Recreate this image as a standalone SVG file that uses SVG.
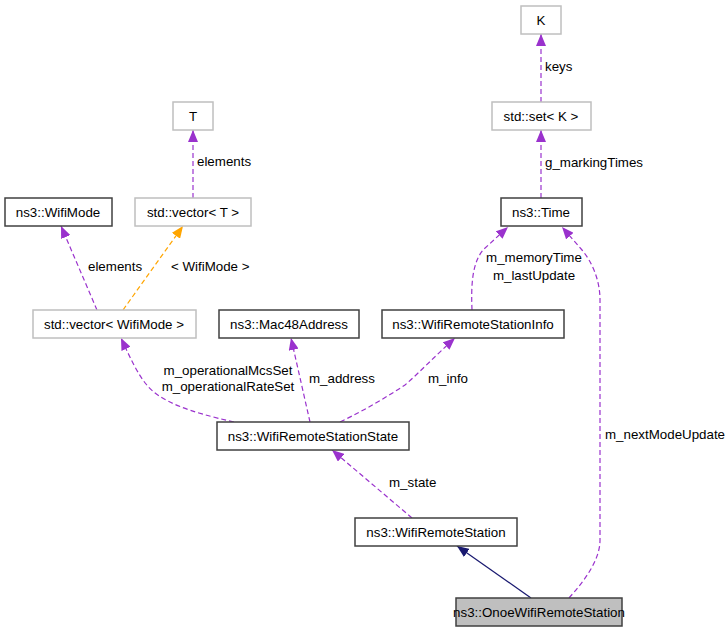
<svg xmlns="http://www.w3.org/2000/svg" width="728" height="632" viewBox="0 0 728 632">
<style>
text{font-family:"Liberation Sans",Arial,sans-serif;font-size:13.33px;fill:#000}
.n text{text-anchor:middle}
.b{fill:#fff;stroke:#404040;stroke-width:1.5}
.g{fill:#fff;stroke:#bfbfbf;stroke-width:1.5}
.s{fill:#bfbfbf;stroke:#404040;stroke-width:1.5}
.e{fill:none;stroke:#9a32cd;stroke-width:1.2;stroke-dasharray:5,3;marker-end:url(#ap)}
.o{fill:none;stroke:#ffa500;stroke-width:1.2;stroke-dasharray:5,3;marker-end:url(#ao)}
.h{fill:none;stroke:#191970;stroke-width:1.2;marker-end:url(#an)}
</style>
<defs>
<marker id="ap" viewBox="0 0 12 10" refX="12" refY="5" markerWidth="12" markerHeight="10" markerUnits="userSpaceOnUse" orient="auto"><path d="M0,0L12,5L0,10z" fill="#9a32cd"/></marker>
<marker id="ao" viewBox="0 0 12 10" refX="12" refY="5" markerWidth="12" markerHeight="10" markerUnits="userSpaceOnUse" orient="auto"><path d="M0,0L12,5L0,10z" fill="#ffa500"/></marker>
<marker id="an" viewBox="0 0 12 10" refX="12" refY="5" markerWidth="12" markerHeight="10" markerUnits="userSpaceOnUse" orient="auto"><path d="M0,0L12,5L0,10z" fill="#191970"/></marker>
</defs>
<rect width="728" height="632" fill="#fff"/>
<g id="edges">
<path class="e" d="M541,102L541,34"/>
<text x="545" y="71">keys</text>
<path class="e" d="M541,198L541,130"/>
<text x="545" y="167">g_markingTimes</text>
<path class="e" d="M193,198L193,130"/>
<text x="197" y="166">elements</text>
<path class="e" d="M97,310L61,226"/>
<text x="88" y="271">elements</text>
<path class="o" d="M123,310L183,226"/>
<text x="171" y="271">&lt; WifiMode &gt;</text>
<path class="e" d="M472,310C471,285 472,262 484,249L508,227"/>
<text x="534" y="262" text-anchor="middle">m_memoryTime</text>
<text x="534" y="280" text-anchor="middle">m_lastUpdate</text>
<path class="e" d="M569,598C585,580 600,560 600,540L600,300C600,280 592,262 582,250L562,227"/>
<text x="605" y="439">m_nextModeUpdate</text>
<path class="e" d="M310,422L291,338"/>
<text x="309" y="383">m_address</text>
<path class="e" d="M340,422C365,410 385,398 405,385C420,372 435,356 455,338"/>
<text x="428" y="383">m_info</text>
<path class="e" d="M234,422C190,412 160,402 146,384C138,374 132,362 121,338"/>
<text x="228" y="375" text-anchor="middle">m_operationalMcsSet</text>
<text x="228" y="391" text-anchor="middle">m_operationalRateSet</text>
<path class="e" d="M412,518L332,450"/>
<text x="389" y="487">m_state</text>
<path class="h" d="M531,598L457,546"/>
</g>
<g id="K" class="n"><rect class="g" x="521" y="6" width="40" height="28"/><text x="541" y="25">K</text></g>
<g id="setK" class="n"><rect class="g" x="492" y="102" width="99" height="28"/><text x="541" y="121">std::set&lt; K &gt;</text></g>
<g id="Time" class="n"><rect class="b" x="501" y="198" width="81" height="28"/><text x="541" y="217">ns3::Time</text></g>
<g id="T" class="n"><rect class="g" x="173" y="102" width="40" height="28"/><text x="193" y="121">T</text></g>
<g id="WifiMode" class="n"><rect class="b" x="5" y="198" width="107" height="28"/><text x="58" y="217">ns3::WifiMode</text></g>
<g id="vectorT" class="n"><rect class="g" x="135" y="198" width="116" height="28"/><text x="193" y="217">std::vector&lt; T &gt;</text></g>
<g id="vectorWifiMode" class="n"><rect class="g" x="33" y="310" width="163" height="28"/><text x="114" y="329">std::vector&lt; WifiMode &gt;</text></g>
<g id="Mac48Address" class="n"><rect class="b" x="219" y="310" width="140" height="28"/><text x="289" y="329">ns3::Mac48Address</text></g>
<g id="WifiRemoteStationInfo" class="n"><rect class="b" x="382" y="310" width="182" height="28"/><text x="473" y="329">ns3::WifiRemoteStationInfo</text></g>
<g id="WifiRemoteStationState" class="n"><rect class="b" x="217" y="422" width="192" height="28"/><text x="313" y="441">ns3::WifiRemoteStationState</text></g>
<g id="WifiRemoteStation" class="n"><rect class="b" x="355" y="518" width="162" height="28"/><text x="436" y="537">ns3::WifiRemoteStation</text></g>
<g id="OnoeWifiRemoteStation" class="n"><rect class="s" x="456" y="598" width="166" height="28"/><text x="539" y="617">ns3::OnoeWifiRemoteStation</text></g>
</svg>
